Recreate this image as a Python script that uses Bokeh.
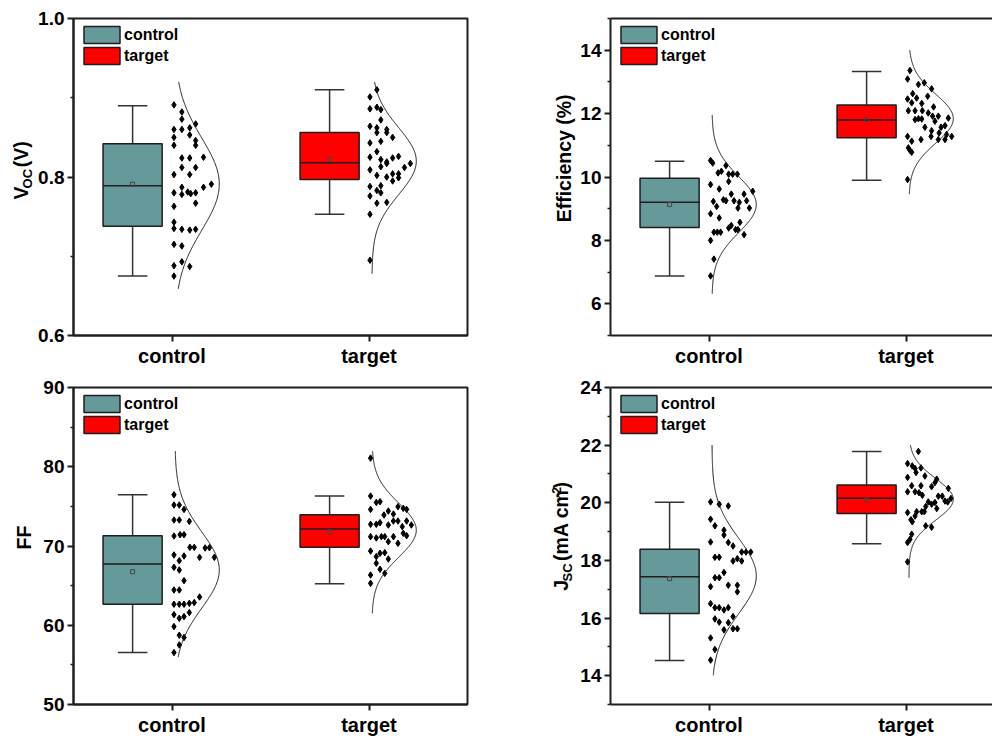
import numpy as np
from bokeh.plotting import figure
from bokeh.models import FixedTicker, Range1d, LinearAxis
from bokeh.core.properties import value
from bokeh.layouts import column, row
from bokeh.embed import file_html
from bokeh.resources import INLINE

FONT = "Liberation Sans"
INK = "#1e1e1e"

# ---------------- data ----------------
groups = ["control", "target"]
group_x = [1, 2]
box_colors = ["#669999", "#ff0000"]

# V_OC (V)
voc_control = [0.891, 0.882, 0.873, 0.867, 0.860, 0.860, 0.862, 0.850, 0.853, 0.846,
               0.840, 0.840, 0.824, 0.824, 0.825, 0.812, 0.812, 0.803, 0.803, 0.791,
               0.787, 0.787, 0.780, 0.778, 0.781, 0.779, 0.780, 0.767, 0.763, 0.743,
               0.735, 0.734, 0.733, 0.734, 0.715, 0.713, 0.693, 0.688, 0.687, 0.675]
voc_control_dx = [.01, .05, .05, .12, .01, .05, .09, .01, .09, .12,
                  .01, .12, .05, .09, .16, .05, .12, .01, .09, .20,
                  .05, .16, .01, .05, .08, .095, .12, .12, .01, .01,
                  .01, .05, .09, .12, .01, .05, .05, .01, .09, .01]
voc_target = [0.910, 0.901, 0.886, 0.888, 0.885, 0.872, 0.864, 0.862, 0.860, 0.856,
              0.856, 0.850, 0.843, 0.845, 0.832, 0.825, 0.822, 0.819, 0.824, 0.826,
              0.813, 0.817, 0.817, 0.812, 0.809, 0.802, 0.804, 0.804, 0.800, 0.799,
              0.795, 0.788, 0.789, 0.783, 0.780, 0.776, 0.768, 0.767, 0.753, 0.695]
voc_target_dx = [.04, .005, .005, .04, .06, .06, .005, .04, .09, .04,
                 .09, .12, .005, .06, .04, .005, .06, .09, .12, .15,
                 .06, .09, .21, .18, .005, .04, .12, .15, .09, .15,
                 .12, .005, .06, .04, .06, .005, .09, .04, .005, .005]
voc_stats = {"lo": [0.675, 0.753], "q1": [0.738, 0.797], "med": [0.789, 0.818],
             "q3": [0.842, 0.856], "hi": [0.890, 0.910], "mean": [0.791, 0.822]}
voc_fit = {"mean": [0.791, 0.820], "sd": [0.058, 0.042],
           "lo": [0.659, 0.678], "hi": [0.920, 0.920]}
voc_ticks = [0.6, 0.8, 1.0]
voc_tick_labels = ["0.6", "0.8", "1.0"]
voc_minor = [0.7, 0.9]

# Efficiency (%)
eff_control = [10.52, 10.44, 10.13, 10.18, 10.36, 10.09, 10.09, 10.09, 9.86, 9.76,
               9.62, 9.46, 9.55, 9.46, 9.23, 9.07, 9.28, 9.25, 9.25, 9.20,
               9.25, 9.02, 9.02, 8.84, 8.71, 8.57, 8.47, 8.39, 8.26, 8.26,
               8.26, 8.34, 8.18, 8.34, 8.00, 7.41, 6.88]
eff_control_dx = [.008, .019, .046, .063, .086, .10, .12, .144, .10, .008,
                  .052, .113, .222, .178, .022, .039, .073, .086, .127, .154,
                  .191, .147, .205, .008, .052, .157, .113, .10, .059, .025,
                  .042, .135, .178, .147, .008, .025, .008]
eff_target = [13.36, 13.09, 12.92, 12.97, 12.78, 12.63, 12.46, 12.49, 12.55, 12.32,
              12.34, 12.09, 12.09, 12.09, 12.02, 12.21, 11.84, 11.81, 11.83, 11.92,
              11.92, 11.86, 11.57, 11.76, 11.62, 11.57, 11.46, 11.39, 11.34, 11.28,
              11.28, 11.13, 11.18, 11.28, 11.18, 11.18, 10.92, 10.78, 10.84, 9.92]
eff_target_dx = [.02, .008, .063, .093, .13, .034, .008, .054, .11, .08,
                 .029, .012, .046, .083, .113, .14, .063, .046, .08, .135,
                 .164, .215, .096, .147, .198, .178, .13, .168, .206, .232,
                 .008, .029, .076, .127, .164, .198, .012, .029, .02, .008]
eff_stats = {"lo": [6.88, 9.90], "q1": [8.41, 11.24], "med": [9.20, 11.80],
             "q3": [9.96, 12.27], "hi": [10.50, 13.33], "mean": [9.13, 11.81]}
eff_fit = {"mean": [9.13, 11.84], "sd": [0.88, 0.77],
           "lo": [6.32, 9.46], "hi": [11.95, 14.0]}
eff_ticks = [6, 8, 10, 12, 14]
eff_tick_labels = ["6", "8", "10", "12", "14"]
eff_minor = [5, 7, 9, 11, 13, 15]

# FF
ff_control = [76.47, 75.17, 75.17, 74.62, 73.28, 73.28, 73.11, 71.26, 71.43, 71.43,
              69.83, 69.83, 69.75, 69.79, 68.87, 68.74, 68.15, 68.57, 68.57, 67.31,
              66.97, 65.63, 64.45, 64.45, 63.57, 62.86, 62.65, 62.65, 62.65, 62.77,
              61.60, 61.34, 60.88, 61.09, 59.83, 58.74, 58.45, 57.52, 56.55]
ff_control_dx = [.01, .01, .037, .061, .01, .037, .088, .01, .041, .061,
                 .091, .113, .168, .19, .01, .061, .037, .14, .215, .01,
                 .037, .061, .01, .037, .14, .113, .01, .037, .061, .088,
                 .088, .01, .037, .061, .01, .037, .061, .037, .01]
ff_target = [81.09, 76.30, 75.50, 75.59, 74.62, 73.91, 74.41, 74.03, 74.96, 74.75,
             74.62, 72.73, 72.73, 72.94, 72.65, 73.15, 73.15, 72.44, 73.15, 72.65,
             71.18, 71.01, 71.18, 71.18, 71.18, 71.60, 71.30, 70.34, 70.55, 69.37,
             69.08, 69.16, 68.66, 68.36, 67.82, 67.06, 66.55, 66.34, 65.29]
ff_target_dx = [.008, .008, .037, .056, .008, .076, .098, .124, .147, .174,
                .191, .008, .037, .056, .098, .124, .147, .169, .191, .215,
                .008, .037, .063, .08, .124, .174, .191, .147, .098, .008,
                .056, .08, .037, .098, .037, .056, .08, .008, .008]
ff_stats = {"lo": [56.55, 65.25], "q1": [62.65, 69.83], "med": [67.73, 72.14],
            "q3": [71.30, 73.95], "hi": [76.47, 76.30], "mean": [66.76, 71.80]}
ff_fit = {"mean": [66.97, 72.0], "sd": [4.8, 3.4],
          "lo": [55.97, 61.5], "hi": [81.97, 81.97]}
ff_ticks = [50, 60, 70, 80, 90]
ff_tick_labels = ["50", "60", "70", "80", "90"]
ff_minor = [55, 65, 75, 85]

# J_SC (mA cm-2)
jsc_control = [20.03, 19.95, 19.89, 19.43, 19.20, 19.05, 18.88, 18.64, 18.62, 18.50,
               18.11, 18.11, 18.29, 18.29, 18.29, 17.98, 18.06, 17.98, 17.58, 17.40,
               17.40, 17.09, 17.14, 17.14, 16.91, 16.50, 16.36, 16.36, 16.36, 16.28,
               15.97, 16.05, 15.86, 15.84, 15.59, 15.63, 15.63, 15.31, 14.91, 14.54]
jsc_control_dx = [.008, .052, .098, .008, .03, .076, .076, .008, .098, .122,
                  .03, .052, .188, .212, .166, .122, .144, .166, .076, .052,
                  .03, .008, .098, .144, .144, .008, .03, .052, .098, .076,
                  .03, .122, .052, .098, .076, .122, .144, .008, .03, .008]
jsc_target = [21.78, 21.36, 21.28, 21.19, 21.21, 21.05, 20.93, 20.88, 20.82, 20.59,
              20.59, 20.56, 20.70, 20.50, 20.38, 20.38, 20.35, 20.26, 20.23, 20.23,
              20.15, 20.03, 19.95, 20.01, 20.06, 20.03, 19.87, 19.80, 19.66, 19.69,
              19.69, 19.69, 19.54, 19.41, 19.34, 19.20, 19.15, 18.91, 18.62, 18.73, 17.95]
jsc_target_dx = [.063, .008, .032, .046, .076, .051, .096, .008, .156, .029,
                 .076, .13, .147, .215, .008, .046, .066, .083, .164, .184,
                 .228, .113, .13, .147, .198, .212, .10, .156, .008, .054,
                 .08, .093, .046, .025, .032, .10, .13, .029, .008, .02, .008]
jsc_stats = {"lo": [14.53, 18.58], "q1": [16.16, 19.63], "med": [17.43, 20.16],
             "q3": [18.39, 20.62], "hi": [20.02, 21.78], "mean": [17.37, 20.09]}
jsc_fit = {"mean": [17.46, 20.12], "sd": [1.3, 0.72],
           "lo": [14.01, 17.4], "hi": [22.0, 22.0]}
jsc_ticks = [14, 16, 18, 20, 22, 24]
jsc_tick_labels = ["14", "16", "18", "20", "22", "24"]
jsc_minor = [13, 15, 17, 19, 21, 23]

# axis titles: (text, font px, baseline shift px; + = subscript, - = superscript)
voc_title = [("V", 19.5, 0), ("OC", 13, 4), (" (V)", 19.5, 0)]
eff_title = [("Efficiency (%)", 19.5, 0)]
ff_title = [("FF", 19.5, 0)]
jsc_title = [("J", 19.5, 0), ("SC", 13, 4), (" (mA cm", 19.5, 0), ("-2", 12, -8), (")", 19.5, 0)]

# ---------------- helpers ----------------
BOX_SHIFT = -0.2
BOX_W = 0.3
CAP_W = 0.15
CURVE_BASE = 0.015
CURVE_AMP = 0.225
ANCHOR_FIX = 0.36   # rotated-text anchor correction (em)

W_BOLD = {' ': 278, '(': 333, ')': 333, '%': 889, 'A': 722, 'C': 722, 'E': 667, 'F': 611,
          'J': 556, 'O': 778, 'S': 667, 'V': 667, 'a': 556, 'c': 556, 'e': 556, 'f': 333,
          'i': 278, 'm': 889, 'n': 611, 'y': 556, '-': 333, '2': 556}


def tw(s, size):
    return sum(W_BOLD.get(c, 556) for c in s) * size / 1000.0


def title_strip(width, height, parts, baseline_x, center_y, shift_px):
    """A bare figure holding a rotated axis title made of rich-text pieces."""
    s = figure(width=width, height=height, x_range=Range1d(0, width),
               y_range=Range1d(0, height), output_backend="svg", toolbar_location=None,
               min_border=0)
    s.axis.visible = False
    s.grid.visible = False
    s.outline_line_color = None
    s.background_fill_color = "white"
    s.border_fill_color = "white"
    total = sum(tw(t, sz) for t, sz, _ in parts)
    y = center_y - total / 2.0 + shift_px
    for t, sz, sh in parts:
        lead = len(t) - len(t.lstrip(" "))
        y += tw(" " * lead, sz)          # SVG collapses leading blanks
        if sh < 0:
            y += 1.0                     # small gap before a superscript
        body = t.lstrip(" ")
        s.text(x=[baseline_x + sh - ANCHOR_FIX * sz], y=[y], text=[body], angle=np.pi / 2,
               text_align="left", text_baseline="alphabetic",
               text_font=value(FONT), text_font_style="bold",
               text_font_size=value(f"{sz}px"), text_color="black")
        y += tw(body, sz)
    return s


def make_panel(ctrl, ctrl_dx, targ, targ_dx, stats, fit, yrange, ticks, tick_labels, minor,
               width, height, bl, br, bt, bb, x_end, closed, x_standoff):
    p = figure(width=width, height=height, x_range=Range1d(0.5, x_end),
               y_range=Range1d(*yrange), output_backend="svg", toolbar_location=None,
               min_border_left=bl, min_border_right=br, min_border_top=bt,
               min_border_bottom=bb)
    p.grid.visible = False
    p.background_fill_color = "white"
    p.border_fill_color = "white"

    xa = p.below[0]
    ya = p.left[0]
    for ax in (xa, ya):
        ax.axis_line_width = 2
        ax.axis_line_color = INK
        ax.major_tick_line_width = 2
        ax.major_tick_line_color = INK
        ax.major_tick_out = 6
        ax.major_tick_in = 0
        ax.minor_tick_line_width = 1.5
        ax.minor_tick_line_color = INK
        ax.minor_tick_out = 3
        ax.minor_tick_in = 0
        ax.major_label_text_font = FONT
        ax.major_label_text_font_style = "bold"
        ax.major_label_text_color = "black"
    xa.ticker = FixedTicker(ticks=group_x)
    xa.major_label_overrides = {g: n for g, n in zip(group_x, groups)}
    xa.major_label_text_font_size = "20px"
    xa.major_label_standoff = x_standoff
    ya.ticker = FixedTicker(ticks=ticks, minor_ticks=minor)
    ya.major_label_overrides = {t: l for t, l in zip(ticks, tick_labels)}
    ya.major_label_text_font_size = "19px"
    ya.major_label_standoff = 3

    if closed:
        p.outline_line_color = INK
        p.outline_line_width = 2
    else:
        p.outline_line_color = None
        top = LinearAxis(ticker=FixedTicker(ticks=[]), major_label_text_font_size="0px",
                         major_tick_out=0, major_tick_in=0, minor_tick_out=0,
                         minor_tick_in=0, axis_line_width=2, axis_line_color=INK,
                         major_label_standoff=0)
        p.add_layout(top, "above")

    bx = [g + BOX_SHIFT for g in group_x]
    wcol = "#333333"
    p.segment(x0=bx, y0=stats["q3"], x1=bx, y1=stats["hi"], line_color=wcol, line_width=1.5)
    p.segment(x0=bx, y0=stats["q1"], x1=bx, y1=stats["lo"], line_color=wcol, line_width=1.5)
    for key in ("hi", "lo"):
        p.segment(x0=[b - CAP_W / 2 for b in bx], y0=stats[key],
                  x1=[b + CAP_W / 2 for b in bx], y1=stats[key],
                  line_color=wcol, line_width=1.5)
    for i in range(2):
        p.vbar(x=[bx[i]], width=BOX_W, bottom=[stats["q1"][i]], top=[stats["q3"][i]],
               fill_color=box_colors[i], line_color=INK, line_width=1.5,
               legend_label=groups[i])
    p.segment(x0=[b - BOX_W / 2 for b in bx], y0=stats["med"],
              x1=[b + BOX_W / 2 for b in bx], y1=stats["med"],
              line_color=INK, line_width=1.5)
    p.scatter(bx, stats["mean"], marker="square", size=4, fill_color=None,
              line_color="#444444", line_width=1)

    for i, (vals, dx) in enumerate(((ctrl, ctrl_dx), (targ, targ_dx))):
        p.scatter([group_x[i] + d for d in dx], vals, marker="diamond", size=6.5,
                  color="black")
        ys = np.linspace(fit["lo"][i], fit["hi"][i], 240)
        xs = group_x[i] + CURVE_BASE + CURVE_AMP * np.exp(
            -0.5 * ((ys - fit["mean"][i]) / fit["sd"][i]) ** 2)
        p.line(xs, ys, line_color=INK, line_width=1)

    lg = p.legend[0]
    lg.location = "top_left"
    lg.margin = 6
    lg.padding = 0
    lg.spacing = 0
    lg.glyph_width = 45
    lg.glyph_height = 21
    lg.label_height = 21
    lg.label_standoff = 0
    lg.label_text_font = FONT
    lg.label_text_font_style = "bold"
    lg.label_text_font_size = "16px"
    lg.label_text_color = "black"
    lg.border_line_color = None
    lg.background_fill_alpha = 0
    return p


# layout (pixels)
STRIP_L = 34          # strip left of the left panels
PANEL_L = 454         # left panel figure width (frame 394)
BL_L = 39
STRIP_R = 88          # strip between the columns
PANEL_R = 416         # right panel figure width (frame 382, open at right)
BL_R = 34
TOP_H, BOT_H = 374, 364
TOP_BT, TOP_BB = 18, 39
BOT_BT, BOT_BB = 13, 33
RIGHT_FRAME = PANEL_R - BL_R
X_END_R = 0.5 + RIGHT_FRAME / 197.0

top_c = TOP_BB + (TOP_H - TOP_BT - TOP_BB) / 2.0
bot_c = BOT_BB + (BOT_H - BOT_BT - BOT_BB) / 2.0

s1 = title_strip(STRIP_L, TOP_H, voc_title, STRIP_L + BL_L - 45, top_c, -5)
p1 = make_panel(voc_control, voc_control_dx, voc_target, voc_target_dx, voc_stats, voc_fit,
                (0.6, 1.0), voc_ticks, voc_tick_labels, voc_minor,
                PANEL_L, TOP_H, BL_L, 21, TOP_BT, TOP_BB, 2.5, True, 3)
s2 = title_strip(STRIP_R, TOP_H, eff_title, STRIP_R + BL_R - 39, top_c, 0)
p2 = make_panel(eff_control, eff_control_dx, eff_target, eff_target_dx, eff_stats, eff_fit,
                (5, 15), eff_ticks, eff_tick_labels, eff_minor,
                PANEL_R, TOP_H, BL_R, 0, TOP_BT, TOP_BB, X_END_R, False, 3)
s3 = title_strip(STRIP_L, BOT_H, ff_title, STRIP_L + BL_L - 42, bot_c, -2)
p3 = make_panel(ff_control, ff_control_dx, ff_target, ff_target_dx, ff_stats, ff_fit,
                (50, 90), ff_ticks, ff_tick_labels, ff_minor,
                PANEL_L, BOT_H, BL_L, 21, BOT_BT, BOT_BB, 2.5, True, 3)
s4 = title_strip(STRIP_R, BOT_H, jsc_title, STRIP_R + BL_R - 42, bot_c, 0)
p4 = make_panel(jsc_control, jsc_control_dx, jsc_target, jsc_target_dx, jsc_stats, jsc_fit,
                (13, 24), jsc_ticks, jsc_tick_labels, jsc_minor,
                PANEL_R, BOT_H, BL_R, 0, BOT_BT, BOT_BB, X_END_R, False, 3)

layout = column(row(s1, p1, s2, p2), row(s3, p3, s4, p4))
open("out.html", "w").write(file_html(layout, INLINE))
